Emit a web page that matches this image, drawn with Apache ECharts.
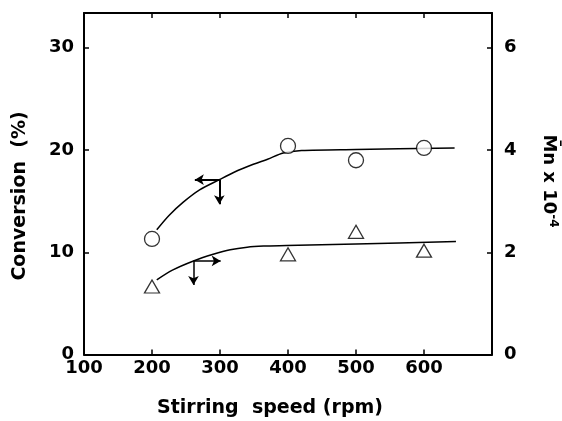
<!DOCTYPE html>
<html>
<head>
<meta charset="utf-8">
<script src="https://cdn.jsdelivr.net/npm/echarts@6/dist/echarts.min.js"></script>
<style>html,body{margin:0;padding:0;background:#fff}#c{width:562px;height:421px}</style>
</head>
<body>
<div id="c"></div>
<script>
// Measured points
var speed = [200, 400, 500, 600];
var conversion = [11.3, 20.4, 19.0, 20.2];      // % (left axis)
var mn = [1.33, 1.96, 2.40, 2.03];               // Mn x 10^-4 (right axis)
// Fitted curves
var convFitX = [207, 225, 246, 270, 299, 320, 349, 370, 393, 420, 500, 645];
var convFitY = [12.2, 13.6, 14.9, 16.1, 17.1, 17.8, 18.6, 19.1, 19.7, 19.95, 20.05, 20.2];
var mnFitX = [207, 230, 261, 290, 315, 340, 364, 398, 500, 647];
var mnFitY = [1.46, 1.65, 1.83, 1.96, 2.05, 2.10, 2.12, 2.13, 2.16, 2.21];
// Arrow markers (data coordinates)
var convArrowFrom = [299, 17.1], convArrowLeftTo = [263, 17.1], convArrowDownTo = [299, 14.7];
var mnArrowFrom = [261, 1.83], mnArrowRightTo = [301, 1.83], mnArrowDownTo = [261, 1.36];
// Axis ticks
var xTicks = [100, 200, 300, 400, 500, 600];
var leftTicks = [0, 10, 20, 30];
var rightTicks = [0, 2, 4, 6];

function zip(a, b) { return a.map(function (v, i) { return [v, b[i]]; }); }

var FONT = 'DejaVu Sans';
var chart = echarts.init(document.getElementById('c'));
var axisLine = { show: true, onZero: false, lineStyle: { color: '#000', width: 2 } };
var tick = { show: true, inside: true, length: 5, lineStyle: { color: '#000', width: 1.5 } };
var lblStyle = { color: '#000', fontFamily: FONT, fontSize: 18, fontWeight: 'bold' };

chart.setOption({
  animation: false,
  backgroundColor: '#fff',
  grid: { left: 84, right: 70, top: 13, bottom: 66.5 },
  xAxis: [{
    type: 'value', min: 100, max: 700, interval: 100, position: 'bottom',
    axisLine: axisLine, axisTick: tick, splitLine: { show: false },
    axisLabel: Object.assign({ margin: 5, formatter: function (v) { return xTicks.indexOf(v) >= 0 ? String(v) : ''; } }, lblStyle)
  }, {
    type: 'value', min: 100, max: 700, interval: 100, position: 'top',
    axisLine: axisLine, axisTick: tick, splitLine: { show: false }, axisLabel: { show: false }
  }],
  yAxis: [{
    type: 'value', min: 0, max: 33.4, interval: 10, position: 'left',
    axisLine: axisLine, axisTick: tick, splitLine: { show: false },
    axisLabel: Object.assign({ margin: 10, formatter: function (v) { return leftTicks.indexOf(v) >= 0 ? String(v) : ''; } }, lblStyle)
  }, {
    type: 'value', min: 0, max: 6.68, interval: 2, position: 'right',
    axisLine: axisLine, axisTick: tick, splitLine: { show: false },
    axisLabel: Object.assign({ margin: 12, formatter: function (v) { return rightTicks.indexOf(v) >= 0 ? String(v) : ''; } }, lblStyle)
  }],
  graphic: [
    { type: 'text', x: 270, y: 408, style: { text: 'Stirring  speed (rpm)', font: 'bold 19px "DejaVu Sans"', fill: '#000', align: 'center', verticalAlign: 'middle' } },
    { type: 'text', x: 20, y: 196, rotation: Math.PI / 2, style: { text: 'Conversion  (%)', font: 'bold 19px "DejaVu Sans"', fill: '#000', align: 'center', verticalAlign: 'middle' } },
    { type: 'text', x: 549, y: 181, rotation: -Math.PI / 2, style: {
        text: 'M\u0304n x 10{sup|-4}', font: 'bold 18px "DejaVu Sans"', fill: '#000', align: 'center', verticalAlign: 'middle',
        rich: { sup: { fontSize: 12, fontWeight: 'bold', fontFamily: FONT, verticalAlign: 'top', fill: '#000', padding: [0, 0, 8, 0] } } } }
  ],
  series: [
    {
      type: 'line', xAxisIndex: 0, yAxisIndex: 0, data: zip(convFitX, convFitY), smooth: 0.3,
      showSymbol: false, symbol: 'none', lineStyle: { color: '#000', width: 1.5 }, z: 2,
      markLine: {
        silent: true, symbol: ['none', 'arrow'], symbolSize: [8, 9], label: { show: false },
        lineStyle: { color: '#000', width: 2, type: 'solid' },
        data: [[{ coord: convArrowFrom }, { coord: convArrowLeftTo }], [{ coord: convArrowFrom }, { coord: convArrowDownTo }]]
      }
    },
    {
      type: 'line', xAxisIndex: 0, yAxisIndex: 1, data: zip(mnFitX, mnFitY), smooth: 0.3,
      showSymbol: false, symbol: 'none', lineStyle: { color: '#000', width: 1.5 }, z: 2,
      markLine: {
        silent: true, symbol: ['none', 'arrow'], symbolSize: [8, 9], label: { show: false },
        lineStyle: { color: '#000', width: 1.5, type: 'solid' },
        data: [[{ coord: mnArrowFrom }, { coord: mnArrowRightTo }], [{ coord: mnArrowFrom }, { coord: mnArrowDownTo }]]
      }
    },
    {
      type: 'scatter', xAxisIndex: 0, yAxisIndex: 0, data: zip(speed, conversion), symbol: 'circle', symbolSize: 15,
      itemStyle: { color: '#fff', borderColor: '#000', borderWidth: 1.3 }, z: 5
    },
    {
      type: 'scatter', xAxisIndex: 0, yAxisIndex: 1, data: zip(speed, mn), symbol: 'triangle', symbolSize: [15, 13],
      itemStyle: { color: '#fff', borderColor: '#000', borderWidth: 1.3 }, z: 5
    }
  ]
});
</script>
</body>
</html>
